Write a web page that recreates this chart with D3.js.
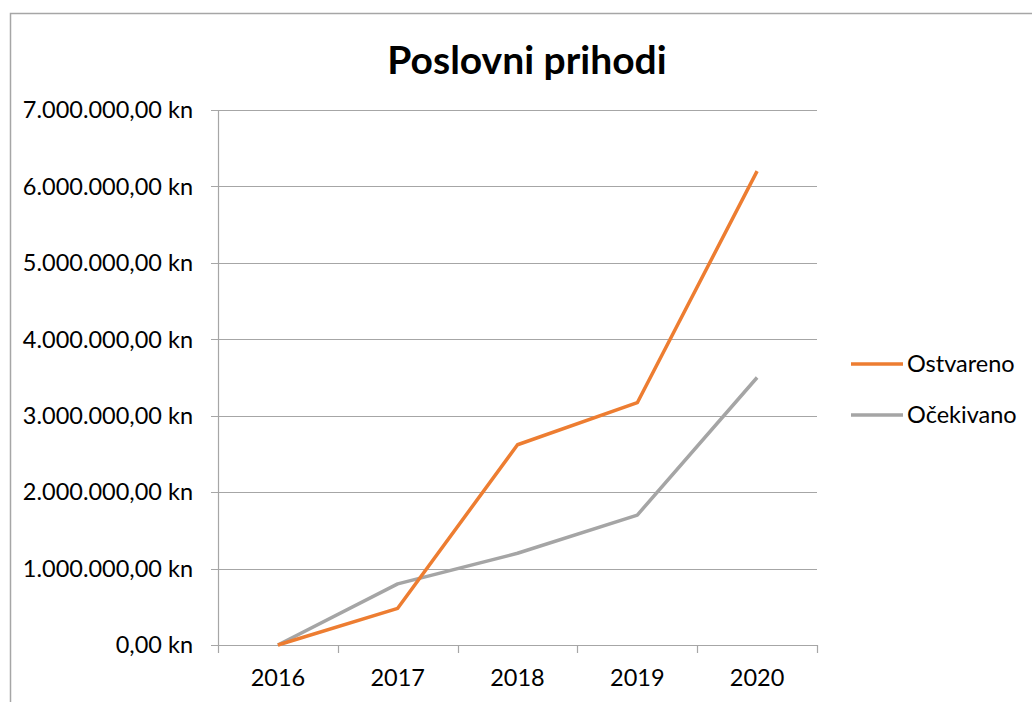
<!DOCTYPE html>
<html><head><meta charset="utf-8">
<script src="https://cdn.jsdelivr.net/npm/d3@7"></script>
<style>body{margin:0;background:#fff}svg{display:block}text{font-family:Lato,"Open Sans",sans-serif}</style>
</head><body>
<svg id="c" width="1032" height="702"></svg>
<script>
const categories = ["2016","2017","2018","2019","2020"];
const ostvareno = [0, 480000, 2620000, 3170000, 6200000];
const ocekivano = [0, 800000, 1200000, 1700000, 3500000];
const yTicks = [0,1000000,2000000,3000000,4000000,5000000,6000000,7000000];
const seriesNames = ["Ostvareno","Očekivano"];
const colors = ["#ED7D31","#A5A5A5"];

const svg = d3.select("#c");
svg.append("rect").attr("x",10.5).attr("y",13.5).attr("width",1100).attr("height",800)
  .attr("fill","none").attr("stroke","#a6a6a6").attr("stroke-width",1.5);

const L=218,R=817,T=110,B=645;
const x = d3.scaleBand().domain(categories).range([L,R]);
const y = d3.scaleLinear().domain([0,7000000]).range([B,T]);

const fmt = v => {
  const s = d3.format(",.2f")(v);
  return s.replace(/,/g,"X").replace(/\./g,",").replace(/X/g,".") + " kn";
};

svg.append("g").selectAll("line").data(yTicks).join("line")
  .attr("x1",L-7).attr("x2",R).attr("y1",d=>Math.round(y(d))+0.5).attr("y2",d=>Math.round(y(d))+0.5)
  .attr("stroke","#a6a6a6").attr("stroke-width",1.2);
svg.append("line").attr("x1",L+0.5).attr("x2",L+0.5).attr("y1",T).attr("y2",B+1)
  .attr("stroke","#a6a6a6").attr("stroke-width",1.2);
const xt = categories.map(c=>x(c)).concat([R]);
svg.append("g").selectAll("line").data(xt).join("line")
  .attr("x1",d=>Math.round(d)+0.5).attr("x2",d=>Math.round(d)+0.5).attr("y1",B).attr("y2",B+8)
  .attr("stroke","#a6a6a6").attr("stroke-width",1.2);

svg.append("g").selectAll("text").data(yTicks).join("text")
  .attr("x",L-25).attr("y",d=>y(d)).attr("dy","0.35em").attr("text-anchor","end")
  .attr("font-size",23.5).attr("fill","#000").text(fmt);
svg.append("g").selectAll("text").data(categories).join("text")
  .attr("x",d=>x(d)+x.bandwidth()/2).attr("y",686).attr("text-anchor","middle")
  .attr("font-size",23.5).attr("fill","#000").text(d=>d);

svg.append("text").attr("x",527).attr("y",74).attr("text-anchor","middle")
  .attr("font-size",39).attr("font-weight","bold").attr("fill","#000").text("Poslovni prihodi");

const line = d3.line().x((d,i)=>x(categories[i])+x.bandwidth()/2).y(d=>y(d));
[ocekivano, ostvareno].forEach((s,k)=>{
  const idx = k===0?1:0;
  svg.append("path").attr("d",line(s)).attr("fill","none")
    .attr("stroke",colors[idx]).attr("stroke-width",3.5).attr("stroke-linejoin","round");
});

seriesNames.forEach((n,i)=>{
  const ly = 364 + i*51;
  svg.append("line").attr("x1",851).attr("x2",903).attr("y1",ly).attr("y2",ly)
    .attr("stroke",colors[i]).attr("stroke-width",3.5);
  svg.append("text").attr("x",907).attr("y",ly).attr("dy","0.35em")
    .attr("font-size",23.5).attr("fill","#000").text(n);
});
</script>
</body></html>
